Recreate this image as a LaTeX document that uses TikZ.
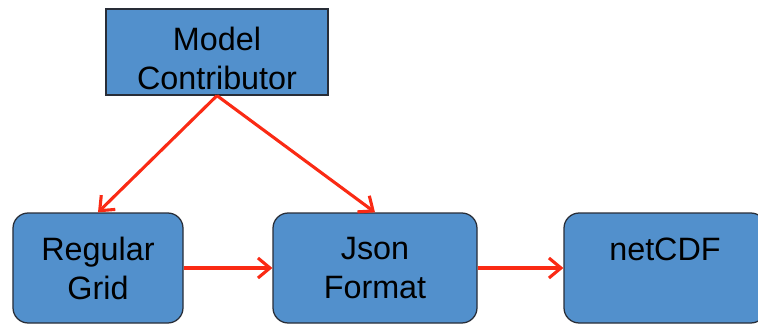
\documentclass[tikz,border=0pt]{standalone}
\usepackage{fontspec}
\setmainfont{Liberation Sans}
\usetikzlibrary{arrows.meta}
\definecolor{boxblue}{RGB}{82,144,204}
\definecolor{boxline}{RGB}{40,45,55}
\definecolor{arrowred}{RGB}{250,42,20}
\begin{document}
\begin{tikzpicture}[
  box/.style={draw=boxline, line width=0.9pt, fill=boxblue, align=center,
    font=\fontsize{23}{27.7}\selectfont, inner sep=0pt},
  roundbox/.style={box, rounded corners=0.38cm, minimum height=2.75cm},
  link/.style={draw=arrowred, line width=2.2pt,
    -{Straight Barb[length=0.3cm, width=0.5cm, line width=2.2pt]}}
]
\useasboundingbox (0,0) rectangle (18.95,8.1);
\node[box, minimum width=5.55cm, minimum height=2.15cm, text height=53pt, text depth=0pt] (mc) at (5.425, 6.8) {Model\\Contributor};
\node[roundbox, minimum width=4.25cm] (rg) at (2.45, 1.4) {Regular\\Grid};
\node[roundbox, minimum width=5.1cm] (json) at (9.375, 1.4) {Json\\Format};
\node[roundbox, minimum width=5.05cm, text height=0.6cm, text depth=1.0cm] (nc) at (16.625, 1.4) {netCDF};
\draw[link] (mc.south) -- (rg.north);
\draw[link] (mc.south) -- (json.north);
\draw[link] (rg.east) -- (json.west);
\draw[link] (json.east) -- (nc.west);
\end{tikzpicture}
\end{document}
